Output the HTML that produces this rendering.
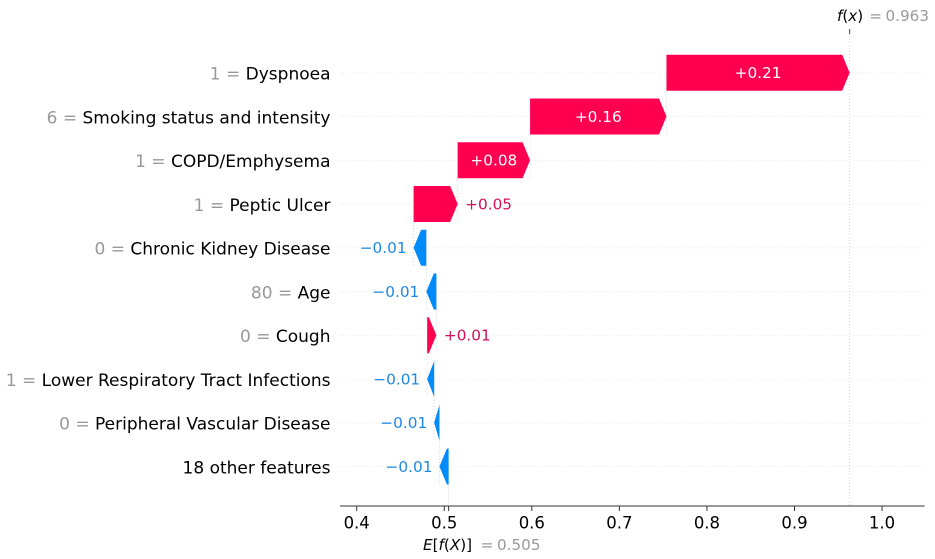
<!DOCTYPE html>
<html lang="en">
<head>
<meta charset="utf-8">
<title>SHAP waterfall chart</title>
<style>
html,body{margin:0;padding:0;background:#fff;}
svg{display:block;font-family:"DejaVu Sans","Liberation Sans",sans-serif;}
</style>
</head>
<body>
<svg id="chart" width="935" height="559" viewBox="0 0 935 559" xmlns="http://www.w3.org/2000/svg"></svg>
<script>
const featureValues = ["1", "6", "1", "1", "0", "80", "0", "1", "0", ""];
const featureNames = ["Dyspnoea", "Smoking status and intensity", "COPD/Emphysema", "Peptic Ulcer", "Chronic Kidney Disease", "Age", "Cough", "Lower Respiratory Tract Infections", "Peripheral Vascular Disease", "18 other features"];
const shapValues = [0.2092, 0.1558, 0.0827, 0.0503, -0.0145, -0.0115, 0.0105, -0.008, -0.006, -0.0105];
const baseValue = 0.505;
const outputValue = 0.963;
const xTicks = [0.4, 0.5, 0.6, 0.7, 0.8, 0.9, 1.0];

const svg = document.getElementById('chart');
const NS = 'http://www.w3.org/2000/svg';
const FONT = 17;
const VALUE_FONT = 15.3;
const TICK_FONT = 16.5;
const NOTE_FONT = 15.2;
const PINK = '#ff0051';
const BLUE = '#008bfb';
const PINK_TEXT = '#d0105a';
const BLUE_TEXT = '#1e88e5';
const GRID = '#e6e6e6';

function xPos(v) { return 356.7 + (v - 0.4) * 875.6; }
function yPos(i) { return 72.8 + i * 43.75; }

function make(tag, attrs, parent) {
  const el = document.createElementNS(NS, tag);
  for (const k in attrs) el.setAttribute(k, attrs[k]);
  (parent || svg).appendChild(el);
  return el;
}
function tspan(parent, text, fill, style, x) {
  const t = document.createElementNS(NS, 'tspan');
  t.setAttribute('fill', fill);
  if (style) t.setAttribute('font-style', style);
  if (x !== undefined) t.setAttribute('x', x);
  t.textContent = text;
  parent.appendChild(t);
  return t;
}
function slug(s) { return s.toLowerCase().replace(/[^a-z0-9]+/g, '-').replace(/^-|-$/g, ''); }

const AXIS_Y = 506;
const BAR_H = 36;
const HEAD = 7.5;

/* horizontal row guide lines */
featureNames.forEach(function (name, i) {
  const line = make('line', { x1: 340, x2: 923, y1: yPos(i), y2: yPos(i), stroke: GRID, 'stroke-width': 0.8, 'stroke-dasharray': '1 2' });
  
  
});

/* waterfall spans: walk from the base value, bottom row first */
const spans = [];
let running = baseValue;
for (let i = shapValues.length - 1; i >= 0; i--) {
  spans[i] = { from: running, to: running + shapValues[i] };
  running = spans[i].to;
}

/* connector lines between consecutive rows */
for (let i = 0; i < spans.length - 1; i++) {
  const cx = xPos(spans[i].from);
  const conn = make('line', { x1: cx, x2: cx, y1: yPos(i) - BAR_H / 2, y2: yPos(i + 1) + BAR_H / 2, stroke: '#cfcfcf', 'stroke-width': 0.8, 'stroke-dasharray': '1 2' });
  
  
}

/* expected value and output guides */
const baseGuide = make('line', { x1: xPos(baseValue), x2: xPos(baseValue), y1: yPos(9), y2: AXIS_Y, stroke: '#cfcfcf', 'stroke-width': 0.8, 'stroke-dasharray': '1 2' });


const outGuide = make('line', { x1: xPos(outputValue), x2: xPos(outputValue), y1: 33, y2: AXIS_Y, stroke: '#cfcfcf', 'stroke-width': 0.8, 'stroke-dasharray': '1 2' });


const outTick = make('line', { x1: xPos(outputValue), x2: xPos(outputValue), y1: 29, y2: 34, stroke: '#444', 'stroke-width': 1 });



/* bars and labels */
featureNames.forEach(function (name, i) {
  const s = spans[i];
  const v = shapValues[i];
  const x0 = xPos(s.from), x1 = xPos(s.to);
  const y = yPos(i);
  const dir = v >= 0 ? 1 : -1;
  const head = Math.min(HEAD, Math.abs(x1 - x0));
  const neck = x1 - dir * head;
  const t = y - BAR_H / 2, b = y + BAR_H / 2;
  const bar = make('polygon', {
    points: [[x0, t], [neck, t], [x1, y], [neck, b], [x0, b]].map(function (p) { return p[0].toFixed(2) + ',' + p[1].toFixed(2); }).join(' '),
    fill: v >= 0 ? PINK : BLUE
  });
  
  

  const txt = (v >= 0 ? '+' : '\u2212') + Math.abs(v).toFixed(2);
  const barPx = Math.abs(x1 - x0);
  let attrs;
  if (barPx > 60) {
    attrs = { x: (x0 + x1) / 2, y: y + 5.4, 'text-anchor': 'middle', fill: '#fff' };
  } else if (v >= 0) {
    attrs = { x: x1 + 7.5, y: y + 5.4, 'text-anchor': 'start', fill: PINK_TEXT };
  } else {
    attrs = { x: x1 - 7, y: y + 5.4, 'text-anchor': 'end', fill: BLUE_TEXT };
  }
  attrs['font-size'] = VALUE_FONT;
  const valueLabel = make('text', attrs);
  valueLabel.textContent = txt;
  
  

  const label = make('text', { x: 330.5, y: y + 6.8, 'text-anchor': 'end', 'font-size': FONT });
  if (featureValues[i] !== '') tspan(label, featureValues[i] + ' = ', '#999999');
  tspan(label, name, '#000000');
  
  
});

/* x axis */
const axis = make('line', { x1: 340, x2: 924.5, y1: AXIS_Y, y2: AXIS_Y, stroke: '#333', 'stroke-width': 1.1 });


xTicks.forEach(function (v) {
  const tx = xPos(v);
  const tick = make('line', { x1: tx, x2: tx, y1: AXIS_Y, y2: AXIS_Y + 5, stroke: '#333', 'stroke-width': 1 });
  
  
  const lab = make('text', { x: tx, y: 528.3, 'text-anchor': 'middle', 'font-size': TICK_FONT, fill: '#000' });
  lab.textContent = v.toFixed(1);
  
  
});
const baseTick = make('line', { x1: xPos(baseValue), x2: xPos(baseValue), y1: AXIS_Y, y2: AXIS_Y + 5, stroke: '#333', 'stroke-width': 1 });



/* annotations */
const fx = make('text', { x: 837, y: 21, 'font-size': NOTE_FONT });
tspan(fx, 'f', '#000', 'italic');
tspan(fx, '(', '#000');
tspan(fx, 'x', '#000', 'italic');
tspan(fx, ')', '#000');
tspan(fx, '=', '#999999', null, 869.3);
tspan(fx, outputValue.toFixed(3), '#999999', null, 885.5);



const ex = make('text', { x: 423, y: 550, 'font-size': NOTE_FONT });
tspan(ex, 'E', '#000', 'italic');
tspan(ex, '[', '#000');
tspan(ex, 'f', '#000', 'italic');
tspan(ex, '(', '#000');
tspan(ex, 'X', '#000', 'italic');
tspan(ex, ')]', '#000');
tspan(ex, '=', '#999999', null, 480.6);
tspan(ex, baseValue.toFixed(3), '#999999', null, 497);


</script>
</body>
</html>
